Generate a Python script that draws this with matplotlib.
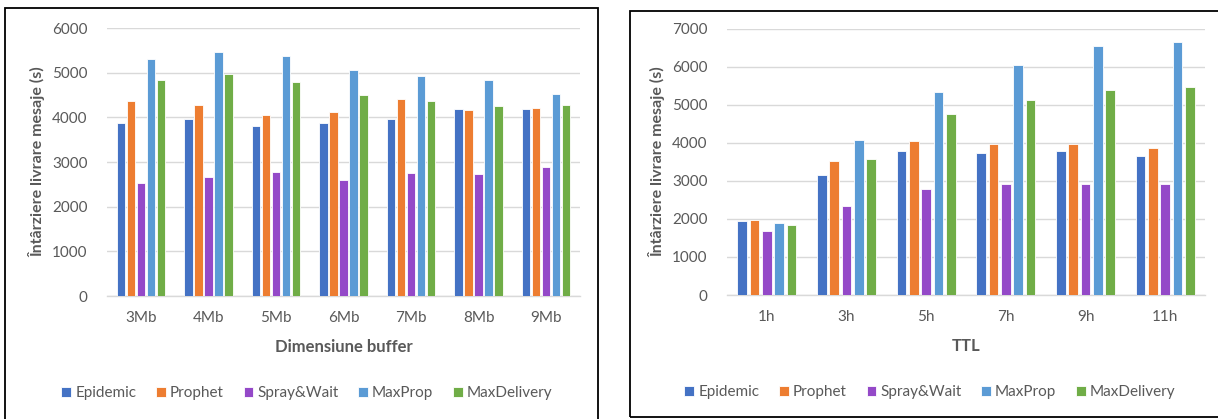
import numpy as np
import matplotlib
matplotlib.use("Agg")
import matplotlib.pyplot as plt
from matplotlib.patches import Rectangle

plt.rcParams["font.family"] = ["Lato", "DejaVu Sans"]

series = ["Epidemic", "Prophet", "Spray&Wait", "MaxProp", "MaxDelivery"]
colors = ["#4472C4", "#ED7D31", "#9449C8", "#5B9BD5", "#70AD47"]

# buffer size experiment
buffers = ["3Mb", "4Mb", "5Mb", "6Mb", "7Mb", "8Mb", "9Mb"]
buf_epidemic = [3870, 3970, 3810, 3870, 3970, 4185, 4185]
buf_prophet = [4370, 4275, 4060, 4125, 4400, 4155, 4215]
buf_spray = [2530, 2655, 2785, 2595, 2755, 2725, 2880]
buf_maxprop = [5305, 5470, 5380, 5060, 4935, 4845, 4520]
buf_maxdel = [4845, 4970, 4785, 4500, 4375, 4245, 4275]

# TTL experiment
ttls = ["1h", "3h", "5h", "7h", "9h", "11h"]
ttl_epidemic = [1950, 3160, 3800, 3730, 3800, 3660]
ttl_prophet = [1980, 3520, 4050, 3980, 3980, 3870]
ttl_spray = [1695, 2335, 2800, 2910, 2910, 2910]
ttl_maxprop = [1905, 4085, 5335, 6055, 6560, 6665]
ttl_maxdel = [1835, 3590, 4760, 5120, 5405, 5485]

GRAY = "#595959"


def draw_panel(ax, cats, data, ymax, stride, width, xlabel):
    x = np.arange(len(cats))
    for i, (vals, c) in enumerate(zip(data, colors)):
        ax.bar(x + (i - 2) * stride, vals, width, color=c, edgecolor="white",
               linewidth=0.6, label=series[i], zorder=3)
    ax.set_xlim(-0.5, len(cats) - 0.5)
    ax.set_ylim(0, ymax)
    ax.set_yticks(np.arange(0, ymax + 1, 1000))
    ax.set_xticks(x)
    ax.set_xticklabels(cats)
    ax.grid(axis="y", color="#D9D9D9", lw=1.0, zorder=0)
    for s in ["top", "right", "left"]:
        ax.spines[s].set_visible(False)
    ax.spines["bottom"].set_color("#D9D9D9")
    ax.spines["bottom"].set_linewidth(1.0)
    ax.tick_params(axis="both", length=0, labelsize=11, colors=GRAY)
    ax.tick_params(axis="x", pad=11)
    ax.tick_params(axis="y", pad=14)
    ax.set_ylabel("Întârziere livrare mesaje (s)", fontsize=11.5,
                  fontweight="bold", color=GRAY, labelpad=5)
    ax.set_xlabel(xlabel, fontsize=12, fontweight="bold", color=GRAY,
                  labelpad=10)


fig = plt.figure(figsize=(12.18, 4.19), dpi=100)

# outer frames around each chart
fig.patches.append(Rectangle((5 / 1218, -0.01), 593 / 1218, 1 - 8 / 419 + 0.01,
                             transform=fig.transFigure, fill=False,
                             edgecolor="black", lw=1.3))
fig.patches.append(Rectangle((630 / 1218, 2 / 419), 600 / 1218, 406 / 419,
                             transform=fig.transFigure, fill=False,
                             edgecolor="black", lw=1.3))

ax1 = fig.add_axes([107 / 1218, 123 / 419, 473 / 1218, 268 / 419])
draw_panel(ax1, buffers,
           [buf_epidemic, buf_prophet, buf_spray, buf_maxprop, buf_maxdel],
           6000, 0.148, 0.123, "Dimensiune buffer")

ax2 = fig.add_axes([727 / 1218, 124 / 419, 478 / 1218, 266 / 419])
draw_panel(ax2, ttls,
           [ttl_epidemic, ttl_prophet, ttl_spray, ttl_maxprop, ttl_maxdel],
           7000, 0.155, 0.122, "TTL")

for ax, cx, cy in [(ax1, 307, 393), (ax2, 930, 392)]:
    h, l = ax.get_legend_handles_labels()
    leg = fig.legend(h, l, loc="center", ncol=5,
                     bbox_to_anchor=(cx / 1218, (419 - cy) / 419),
                     frameon=False, fontsize=11, handlelength=0.65,
                     handleheight=0.65, handletextpad=0.25, columnspacing=1.3)
    for t in leg.get_texts():
        t.set_color(GRAY)

fig.savefig("out.png", dpi=100)
